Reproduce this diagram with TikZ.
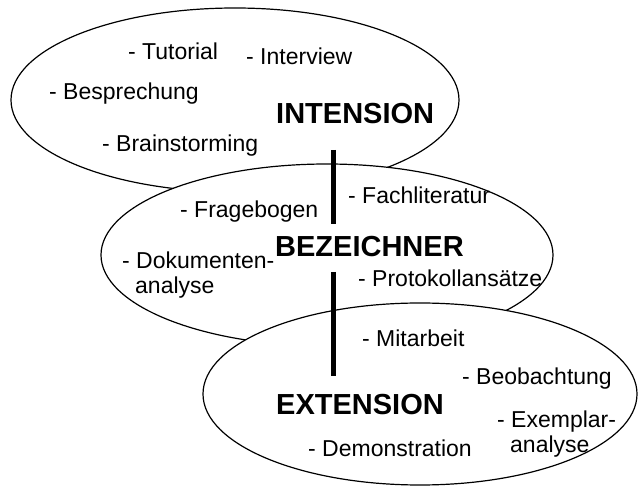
\documentclass[tikz,border=0pt]{standalone}
\usepackage{fontspec}
\setmainfont{Liberation Sans}
\usetikzlibrary{shapes.geometric}
\begin{document}
\begin{tikzpicture}[x=1pt,y=-1pt,
  blob/.style={ellipse, draw, fill=white, line width=1.2pt, inner sep=0pt, outer sep=0pt},
  item/.style={anchor=base west, inner sep=0pt, font=\fontsize{23}{27}\selectfont},
  title/.style={anchor=base west, inner sep=0pt, font=\fontsize{29}{33}\selectfont\bfseries},
  bar/.style={line width=5pt}]
\useasboundingbox (0,0) rectangle (638,486);
\node[blob, minimum width=448pt, minimum height=184pt] (int) at (235,100) {};
\node[blob, minimum width=452pt, minimum height=182pt] (bez) at (327,255) {};
\node[blob, minimum width=434pt, minimum height=182pt] (ext) at (420,394) {};
% bars
\coordinate (b1t) at (333,150);
\coordinate (b1b) at (333,224);
\coordinate (b2t) at (333,272);
\coordinate (b2b) at (333,376);
\draw[bar] (b1t) -- (b1b);
\draw[bar] (b2t) -- (b2b);
% INTENSION
\node[item] (tut) at (128,60) {- Tutorial};
\node[item] (intv) at (246,65) {- Interview};
\node[item] (bes) at (49,100) {- Besprechung};
\node[item] (bra) at (102,152) {- Brainstorming};
\node[title] (tint) at (276,124) {INTENSION};
% BEZEICHNER
\node[item] (fra) at (180,218) {- Fragebogen};
\node[item] (fach) at (348,204) {- Fachliteratur};
\node[title] (tbez) at (275,257) {BEZEICHNER};
\node[item] (dok) at (122,269) {- Dokumenten-};
\node[item] (dok2) at (135,294) {analyse};
\node[item] (pro) at (358,287) {- Protokollansätze};
% EXTENSION
\node[item] (mit) at (362,347) {- Mitarbeit};
\node[item] (beo) at (462,385) {- Beobachtung};
\node[title] (text) at (276,415) {EXTENSION};
\node[item] (exe) at (497,428) {- Exemplar-};
\node[item] (exe2) at (510,453) {analyse};
\node[item] (dem) at (308,457) {- Demonstration};
\end{tikzpicture}
\end{document}
